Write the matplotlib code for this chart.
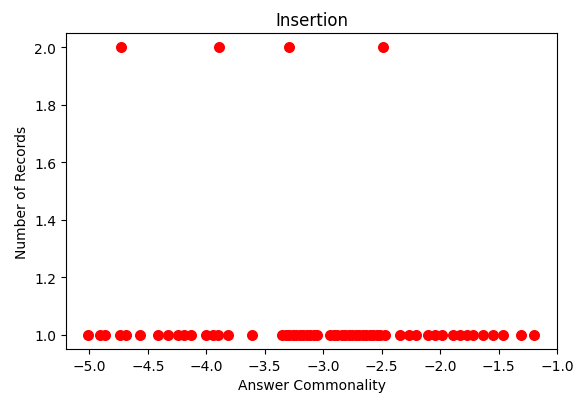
import matplotlib
matplotlib.use('AGG')

import numpy as np
import matplotlib.pyplot as plt

# Answer commonality scores for records appearing once
single_x = [-5.01, -4.91, -4.87, -4.74, -4.69, -4.57, -4.41, -4.33, -4.24, -4.19,
            -4.13, -4.00, -3.94, -3.90, -3.81, -3.61,
            -3.35, -3.32, -3.29, -3.26, -3.23, -3.20, -3.17, -3.14, -3.11, -3.08, -3.05,
            -2.94, -2.91, -2.88, -2.84, -2.81, -2.78, -2.75, -2.72, -2.69, -2.66,
            -2.63, -2.60, -2.57, -2.54, -2.51, -2.47,
            -2.34, -2.27, -2.21, -2.10, -2.04, -1.98, -1.89, -1.83, -1.77, -1.72,
            -1.63, -1.55, -1.46, -1.31, -1.20]
# Scores for records appearing twice
double_x = [-4.73, -3.89, -3.29, -2.49]

x = np.array(single_x + double_x)
y = np.array([1] * len(single_x) + [2] * len(double_x))

fig, ax1 = plt.subplots(1, figsize=(5.73, 4.02), dpi=100)
fig.subplots_adjust(left=66/573, right=557/573, top=1-34/402, bottom=1-350/402)
ax1.scatter(x, y, color='red', s=48)
ax1.set_xlim([-5.2, -1.0])
ax1.set_title('Insertion')
ax1.set_xlabel('Answer Commonality')
ax1.set_ylabel('Number of Records')
plt.savefig('out.png', dpi=100)
